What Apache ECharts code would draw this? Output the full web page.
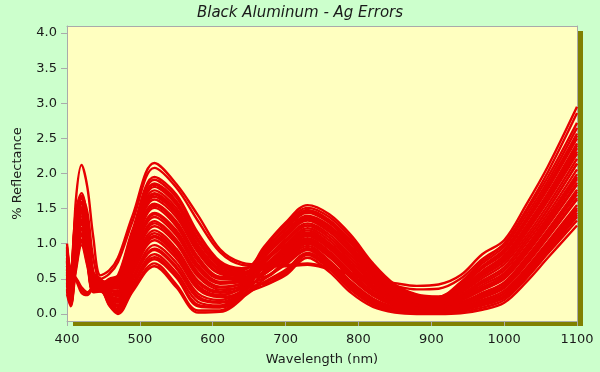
<!DOCTYPE html>
<html>
<head>
<meta charset="utf-8">
<script src="https://cdn.jsdelivr.net/npm/echarts@6/dist/echarts.min.js"></script>
<style>
html,body{margin:0;padding:0;background:#ccffcc;}
#chart{width:600px;height:372px;}
</style>
</head>
<body>
<div id="chart"></div>
<script>
const wavelengths = [400,405,412,420,428,436,446,458,470,490,520,550,580,610,640,670,700,730,760,790,820,850,880,910,940,970,1000,1030,1060,1100];
const xTicks = [400,500,600,700,800,900,1000,1100];
const yTicks = [0,0.5,1,1.5,2,2.5,3,3.5,4];

const curveA1 = [0.55,0.30,1.60,2.12,1.80,1.10,0.55,0.62,0.80,1.40,2.15,1.85,1.40,0.92,0.73,0.70,0.70,0.72,0.66,0.58,0.50,0.44,0.40,0.42,0.55,0.85,1.05,1.55,2.10,2.95];
const curveA2 = [0.45,0.25,1.20,1.68,1.45,0.80,0.50,0.57,0.74,1.32,2.08,1.80,1.32,0.88,0.70,0.68,0.68,0.70,0.64,0.56,0.47,0.40,0.35,0.36,0.50,0.78,1.00,1.48,2.02,2.86];
const curve01 = [0.36,0.16,0.69,1.06,0.75,0.34,0.34, 0.12,0.00,0.32,0.68,0.38,0.02,0.03,0.22, 0.61,0.86,1.08,0.89,0.59,0.32,0.16,0.10,0.09,0.16,0.30,0.45,0.80,1.20,1.77];
const curve02 = [0.68,0.38,1.07,1.39,1.05,0.47,0.42, 0.13,0.02,0.35,0.72,0.42,0.05,0.05,0.23, 0.45,0.63,0.87,0.68,0.38,0.16,0.06,0.03,0.03,0.05,0.13,0.24,0.55,0.92,1.41];
const curve03 = [0.92,0.55,1.36,1.64,1.28,0.57,0.48, 0.15,0.04,0.39,0.78,0.52,0.11,0.09,0.25, 0.72,0.99,1.22,1.05,0.75,0.44,0.24,0.15,0.14,0.25,0.44,0.62,1.00,1.43,2.06];
const curve04 = [0.52,0.27,0.88,1.23,0.90,0.41,0.38, 0.17,0.07,0.43,0.85,0.59,0.17,0.12,0.28, 0.40,0.55,0.80,0.60,0.30,0.10,0.02,0.00,0.00,0.01,0.06,0.16,0.45,0.80,1.26];
const curve05 = [0.28,0.11,0.60,0.98,0.68,0.31,0.32, 0.19,0.10,0.48,0.91,0.65,0.22,0.16,0.30, 0.79,1.10,1.33,1.17,0.87,0.53,0.30,0.20,0.18,0.32,0.54,0.75,1.15,1.61,2.28];
const curve06 = [0.80,0.46,1.21,1.52,1.16,0.52,0.45, 0.21,0.13,0.53,0.98,0.73,0.29,0.20,0.32, 0.56,0.79,1.00,0.81,0.51,0.26,0.12,0.07,0.06,0.12,0.23,0.37,0.70,1.09,1.63];
const curve07 = [0.44,0.22,0.79,1.15,0.83,0.38,0.36, 0.23,0.16,0.58,1.05,0.79,0.35,0.24,0.34, 0.87,1.20,1.44,1.30,1.00,0.63,0.36,0.24,0.21,0.38,0.65,0.87,1.30,1.78,2.50];
const curve08 = [0.96,0.57,1.40,1.68,1.31,0.58,0.49, 0.25,0.19,0.62,1.11,0.86,0.40,0.27,0.37, 0.66,0.93,1.15,0.97,0.67,0.38,0.20,0.13,0.11,0.21,0.37,0.54,0.90,1.32,1.92];
const curve09 = [0.60,0.33,0.98,1.31,0.98,0.44,0.40, 0.27,0.22,0.67,1.19,0.93,0.47,0.32,0.39, 0.51,0.72,0.93,0.72,0.42,0.19,0.08,0.04,0.04,0.08,0.16,0.29,0.60,0.97,1.48];
const curve10 = [0.90,0.58,0.52,0.34,0.29,0.39,0.34, 0.29,0.25,0.72,1.25,1.00,0.53,0.35,0.41, 0.92,1.27,1.51,1.38,1.08,0.69,0.40,0.27,0.24,0.43,0.72,0.96,1.40,1.89,2.65];
const curve11 = [0.72,0.41,1.12,1.43,1.09,0.49,0.43, 0.31,0.28,0.76,1.32,1.06,0.59,0.39,0.44, 0.74,1.03,1.26,1.09,0.79,0.47,0.26,0.17,0.15,0.27,0.47,0.66,1.05,1.49,2.14];
const curve12 = [0.48,0.24,0.83,1.19,0.86,0.39,0.37, 0.33,0.30,0.80,1.38,1.12,0.64,0.43,0.46, 0.59,0.82,1.04,0.85,0.55,0.29,0.14,0.08,0.08,0.14,0.27,0.41,0.75,1.15,1.70];
const curve13 = [0.88,0.52,1.31,1.60,1.24,0.55,0.47, 0.35,0.33,0.85,1.44,1.19,0.70,0.46,0.48, 0.85,1.16,1.40,1.26,0.96,0.60,0.34,0.22,0.20,0.36,0.61,0.83,1.25,1.72,2.43];
const curve14 = [0.32,0.13,0.64,1.02,0.71,0.33,0.33, 0.37,0.36,0.89,1.51,1.25,0.75,0.50,0.50, 0.43,0.58,0.84,0.64,0.34,0.13,0.04,0.01,0.01,0.03,0.09,0.20,0.50,0.86,1.33];
const curve15 = [0.64,0.35,1.02,1.35,1.01,0.46,0.41, 0.39,0.39,0.94,1.57,1.32,0.81,0.53,0.52, 0.69,0.96,1.19,1.01,0.71,0.41,0.22,0.14,0.13,0.23,0.41,0.58,0.95,1.38,1.99];
const curve16 = [1.00,0.60,1.45,1.72,1.35,0.60,0.50, 0.41,0.41,0.98,1.63,1.38,0.87,0.57,0.54, 0.95,1.30,1.55,1.42,1.12,0.72,0.42,0.28,0.25,0.45,0.75,1.00,1.45,1.95,2.72];
const curve17 = [0.40,0.19,0.74,1.11,0.79,0.36,0.35, 0.42,0.44,1.02,1.70,1.44,0.92,0.61,0.56, 0.64,0.89,1.11,0.93,0.63,0.35,0.18,0.11,0.10,0.19,0.34,0.50,0.85,1.26,1.84];
const curve18 = [0.76,0.44,1.17,1.47,1.13,0.50,0.44, 0.44,0.47,1.07,1.76,1.51,0.98,0.64,0.59, 0.77,1.06,1.29,1.13,0.83,0.50,0.28,0.18,0.16,0.30,0.51,0.71,1.10,1.55,2.21];
const curve19 = [0.56,0.30,0.93,1.27,0.94,0.42,0.39, 0.46,0.49,1.10,1.81,1.56,1.03,0.67,0.60, 0.53,0.76,0.97,0.76,0.46,0.22,0.10,0.06,0.05,0.10,0.20,0.33,0.65,1.03,1.55];
const curve20 = [0.84,0.49,1.26,1.56,1.20,0.54,0.46, 0.47,0.51,1.14,1.86,1.61,1.07,0.70,0.62, 0.90,1.23,1.48,1.34,1.04,0.66,0.38,0.25,0.23,0.41,0.68,0.92,1.35,1.84,2.57];
const curve21 = [0.75,0.50,0.48,0.30,0.27,0.36,0.32, 0.49,0.53,1.17,1.91,1.66,1.12,0.73,0.64, 0.82,1.13,1.37,1.22,0.92,0.57,0.32,0.21,0.19,0.34,0.58,0.79,1.20,1.66,2.36];
const curve22 = [0.68,0.38,1.07,1.39,1.05,0.47,0.42, 0.50,0.55,1.20,1.95,1.70,1.15,0.75,0.65, 0.74,1.03,1.26,1.09,0.79,0.47,0.26,0.17,0.15,0.27,0.47,0.66,1.05,1.49,2.14];
const curve23 = [0.34,0.14,0.66,1.04,0.73,0.33,0.33, 0.16,0.06,0.41,0.81,0.55,0.13,0.10,0.26, 0.49,0.70,0.91,0.70,0.40,0.17,0.07,0.03,0.03,0.06,0.14,0.26,0.57,0.94,1.44];
const curve24 = [0.62,0.34,1.00,1.33,1.00,0.45,0.41, 0.20,0.11,0.50,0.93,0.68,0.25,0.17,0.31, 0.67,0.94,1.16,0.99,0.69,0.39,0.21,0.13,0.12,0.22,0.38,0.55,0.92,1.34,1.95];
const curve25 = [0.86,0.50,1.29,1.58,1.22,0.55,0.47, 0.24,0.18,0.60,1.09,0.83,0.38,0.26,0.36, 0.44,0.60,0.86,0.67,0.37,0.15,0.05,0.02,0.02,0.05,0.12,0.23,0.53,0.89,1.38];
const curve26 = [0.50,0.25,0.85,1.21,0.88,0.40,0.37, 0.26,0.20,0.65,1.15,0.89,0.44,0.30,0.38, 0.80,1.11,1.35,1.19,0.89,0.55,0.31,0.20,0.18,0.33,0.56,0.76,1.17,1.63,2.31];
const curve27 = [0.78,0.45,1.19,1.49,1.15,0.51,0.45, 0.30,0.26,0.74,1.29,1.03,0.56,0.38,0.43, 0.60,0.84,1.06,0.87,0.57,0.30,0.15,0.09,0.08,0.16,0.29,0.44,0.78,1.18,1.74];
const curve28 = [0.62,0.45,0.50,0.38,0.31,0.37,0.33, 0.34,0.32,0.83,1.42,1.16,0.68,0.45,0.47, 0.89,1.22,1.46,1.32,1.02,0.65,0.37,0.25,0.22,0.40,0.67,0.90,1.33,1.81,2.54];
const curve29 = [0.58,0.31,0.95,1.29,0.96,0.43,0.40, 0.38,0.37,0.92,1.54,1.29,0.79,0.52,0.51, 0.57,0.80,1.02,0.82,0.52,0.27,0.13,0.08,0.07,0.13,0.25,0.39,0.72,1.11,1.65];
const curve30 = [0.94,0.56,1.38,1.66,1.30,0.58,0.48, 0.42,0.43,1.01,1.67,1.42,0.90,0.59,0.56, 0.84,1.15,1.39,1.24,0.94,0.58,0.33,0.22,0.20,0.35,0.60,0.82,1.23,1.70,2.40];
const curve31 = [0.42,0.20,0.76,1.13,0.81,0.37,0.35, 0.43,0.45,1.04,1.72,1.47,0.95,0.62,0.57, 0.65,0.91,1.13,0.94,0.64,0.36,0.19,0.12,0.11,0.19,0.35,0.51,0.87,1.28,1.87];
const curve32 = [0.74,0.42,1.14,1.45,1.11,0.49,0.43, 0.47,0.50,1.12,1.84,1.58,1.05,0.69,0.61, 0.52,0.74,0.94,0.74,0.44,0.21,0.09,0.05,0.04,0.08,0.18,0.30,0.62,1.00,1.51];

const curves = [curveA1,curveA2,curve01,curve02,curve03,curve04,curve05,curve06,curve07,curve08,curve09,curve10,curve11,curve12,curve13,curve14,curve15,curve16,curve17,curve18,curve19,curve20,curve21,curve22,curve23,curve24,curve25,curve26,curve27,curve28,curve29,curve30,curve31,curve32];

const FONT = 'DejaVu Sans';
const TXT = '#1a1a1a';
const AXC = '#aaaaaa';
const chart = echarts.init(document.getElementById('chart'), null, {renderer:'canvas'});
chart.setOption({
  animation: false,
  backgroundColor: '#ccffcc',
  title: {
    text: 'Black Aluminum - Ag Errors',
    left: 'center', top: 1,
    textStyle: {fontFamily: FONT, fontSize: 15, fontStyle: 'italic', fontWeight: 'normal', color: TXT}
  },
  grid: {
    left: 67, right: 23, top: 26, bottom: 51,
    show: true, backgroundColor: '#ffffc0', borderWidth: 0,
    shadowColor: '#808000', shadowBlur: 0, shadowOffsetX: 6, shadowOffsetY: 5
  },
  xAxis: [{
    type: 'value', min: 400, max: 1100, interval: 100, position: 'bottom',
    name: 'Wavelength (nm)', nameLocation: 'middle', nameGap: 32,
    nameTextStyle: {fontFamily: FONT, fontSize: 13, color: TXT},
    axisLine: {show: true, onZero: false, lineStyle: {color: AXC, width: 1}},
    axisTick: {show: true, length: 5, lineStyle: {color: AXC}, customValues: xTicks},
    axisLabel: {fontFamily: FONT, fontSize: 13, color: TXT, margin: 12, customValues: xTicks,
      formatter: v => String(v)},
    splitLine: {show: false}
  }, {
    type: 'value', min: 400, max: 1100, position: 'top',
    axisLine: {show: true, onZero: false, lineStyle: {color: AXC, width: 1}},
    axisTick: {show: false}, axisLabel: {show: false}, splitLine: {show: false}
  }],
  yAxis: [{
    type: 'value', min: -0.1, max: 4.1, position: 'left',
    name: '% Reflectance', nameLocation: 'middle', nameGap: 43,
    nameTextStyle: {fontFamily: FONT, fontSize: 13, color: TXT},
    axisLine: {show: true, onZero: false, lineStyle: {color: AXC, width: 1}},
    axisTick: {show: true, length: 6, lineStyle: {color: AXC}, customValues: yTicks},
    axisLabel: {fontFamily: FONT, fontSize: 13, color: TXT, margin: 10, customValues: yTicks,
      formatter: v => v.toFixed(1)},
    splitLine: {show: false}
  }, {
    type: 'value', min: -0.1, max: 4.1, position: 'right',
    axisLine: {show: true, onZero: false, lineStyle: {color: AXC, width: 1}},
    axisTick: {show: false}, axisLabel: {show: false}, splitLine: {show: false}
  }],
  series: curves.map((c, k) => ({
    type: 'line',
    name: 'curve' + k,
    xAxisIndex: 0, yAxisIndex: 0,
    data: wavelengths.map((w, i) => [w, c[i]]),
    showSymbol: false,
    smooth: 0.35,
    lineStyle: {color: '#e60000', width: 2.4},
    itemStyle: {color: '#e60000'},
    silent: true
  }))
});
</script>
</body>
</html>
